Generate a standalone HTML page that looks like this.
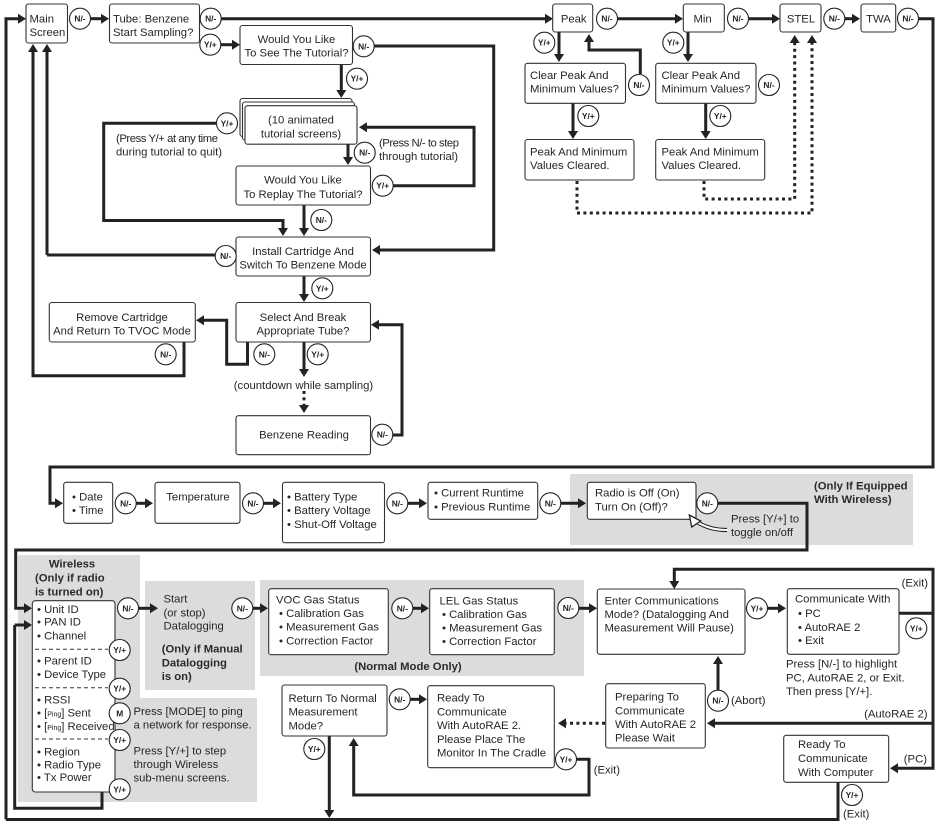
<!DOCTYPE html>
<html><head><meta charset="utf-8"><style>
html,body{margin:0;padding:0;background:#fff;width:937px;height:825px;overflow:hidden}
svg{display:block;filter:blur(.3px)}
text{font-family:"Liberation Sans",sans-serif;font-size:11.3px;fill:#262626}
.m{text-anchor:middle}.e{text-anchor:end}
.b{font-weight:bold;fill:#2a2a2a}
.c text,text.c{font-size:8.4px;font-weight:bold;text-anchor:middle;fill:#222}
.g rect{fill:#dcdcdc}
.l path{fill:none;stroke:#222;stroke-width:3;marker-end:url(#a)}
.n path{fill:none;stroke:#222;stroke-width:3}
.d path{fill:none;stroke:#222;stroke-width:3;stroke-dasharray:3 3.4;marker-end:url(#a)}
.x rect{fill:#fff;stroke:#333;stroke-width:1.1}
.o circle{fill:#fff;stroke:#222;stroke-width:1.1}
</style></head><body>
<svg width="937" height="825" viewBox="0 0 937 825" xmlns="http://www.w3.org/2000/svg">
<defs><marker id="a" markerUnits="userSpaceOnUse" markerWidth="14" markerHeight="14" refX="4" refY="6" orient="auto"><path d="M0,1 L8,6 L0,11 z" fill="#222"/></marker></defs>
<g class="g">
<rect x="570" y="474" width="343" height="71"/>
<rect x="18" y="555" width="122" height="143"/>
<rect x="18" y="698" width="239" height="104"/>
<rect x="145" y="581" width="110" height="109"/>
<rect x="260" y="580" width="324" height="96"/>
</g>
<g class="n">
<path d="M6,819.5H838V782"/>
<path d="M33,47V375.7H184V342"/>
<path d="M102,792V808.3H14.7V625"/>
<path d="M47,255H215"/>
</g>
<g class="l">
<path d="M6,819.5V18.7H22"/>
<path d="M33,376V48"/>
<path d="M47,255V48"/>
<path d="M90,18.7H105"/>
<path d="M221,18.7H549"/>
<path d="M220,44.7H236"/>
<path d="M374,46H493.7V250H376"/>
<path d="M341.3,65V94"/>
<path d="M216,123.3H103.7V220.5H283V232"/>
<path d="M348,144V161"/>
<path d="M393,185.7H474V127.3H363"/>
<path d="M304,205V232"/>
<path d="M304,276V298"/>
<path d="M247.5,342V364.3H226.7V320.3H200"/>
<path d="M304,342V373"/>
<path d="M392,435H402V324.7H375"/>
<path d="M617,18.7H679"/>
<path d="M749,18.7H776"/>
<path d="M845,18.7H856"/>
<path d="M918,18.7H933V467H50V503.3H59"/>
<path d="M136,503.3H149"/>
<path d="M263,503.3H277"/>
<path d="M407,503.3H423"/>
<path d="M561,503.3H582"/>
<path d="M717,503.3H807V550H15.7V608.3H28"/>
<path d="M14.7,625H28"/>
<path d="M138,608.3H154"/>
<path d="M253,608.3H264"/>
<path d="M413,608.3H425"/>
<path d="M579,608.3H593"/>
<path d="M768,608.3H782"/>
<path d="M899,613.3H933V569.3H674.3V585"/>
<path d="M933,569.3V768.3H894"/>
<path d="M933,723.3H711"/>
<path d="M718,690V660"/>
<path d="M410,699.3H423"/>
<path d="M576,759.3H589V795H353.7V742"/>
<path d="M329.3,736V814"/>
<path d="M559,32V58"/>
<path d="M640.3,74V50H589V38"/>
<path d="M688,32V58"/>
<path d="M573,103V135"/>
<path d="M705.7,103V135"/>
</g>
<g class="d">
<path d="M304,391V409"/>
<path d="M704,181V199H794.7V39"/>
<path d="M577,181V213H812V39"/>
<path d="M605,723.3H562"/>
</g>
<g class="x">
<rect x="26" y="4" width="41.500" height="39" rx="2.500"/>
<rect x="109.500" y="4" width="90" height="39" rx="2.500"/>
<rect x="240" y="25.500" width="112.500" height="39" rx="2.500"/>
<rect x="240" y="98.500" width="112" height="38" rx="2.500"/>
<rect x="242.500" y="102" width="112" height="38" rx="2.500"/>
<rect x="245" y="105.700" width="112" height="38.500" rx="2.500"/>
<rect x="236" y="166" width="134.500" height="39" rx="2.500"/>
<rect x="236" y="237" width="134.500" height="39" rx="2.500"/>
<rect x="236" y="302.500" width="134.500" height="39.500" rx="2.500"/>
<rect x="49.300" y="302.500" width="146" height="39.500" rx="2.500"/>
<rect x="236" y="415.700" width="134.500" height="39" rx="2.500"/>
<rect x="63.700" y="482.300" width="49" height="41" rx="2.500"/>
<rect x="155" y="482.300" width="85" height="41" rx="2.500"/>
<rect x="282.500" y="482.300" width="102" height="60.400" rx="2.500"/>
<rect x="428" y="482.300" width="109.700" height="37" rx="2.500"/>
<rect x="587.300" y="482.300" width="108.700" height="37" rx="2.500"/>
<rect x="552.700" y="4" width="40" height="28" rx="2.500"/>
<rect x="683.300" y="4" width="41" height="28" rx="2.500"/>
<rect x="780" y="4" width="41" height="28" rx="2.500"/>
<rect x="861" y="4" width="34.700" height="28" rx="2.500"/>
<rect x="525" y="63.300" width="100.500" height="40" rx="2.500"/>
<rect x="655.700" y="63.300" width="100.300" height="40" rx="2.500"/>
<rect x="525" y="139.500" width="109" height="40.500" rx="2.500"/>
<rect x="655.700" y="139.500" width="109" height="40.500" rx="2.500"/>
<rect x="32.300" y="600.700" width="82.700" height="191.300" rx="3"/>
<rect x="268.700" y="588.700" width="119.600" height="66" rx="2.500"/>
<rect x="429.700" y="588.700" width="124.600" height="66" rx="2.500"/>
<rect x="597.300" y="589" width="147.700" height="65.300" rx="2.500"/>
<rect x="787.300" y="588.700" width="111.700" height="65.600" rx="2.500"/>
<rect x="605.700" y="683.700" width="99.600" height="64.300" rx="2.500"/>
<rect x="783.700" y="735.300" width="105" height="47" rx="2.500"/>
<rect x="282" y="685" width="105" height="51" rx="2.500"/>
<rect x="427.700" y="685.700" width="126.600" height="82" rx="2.500"/>
</g>
<path d="M35,649.3H108M35,687.7H108M35,739H108" stroke="#333" stroke-width="1" stroke-dasharray="4 3" fill="none"/>
<g>
<path d="M727,530 C714,530 705,527 697,522" fill="none" stroke="#222" stroke-width="4.200"/>
<path d="M727.500,530 C714,530 705,527 695,521" fill="none" stroke="#fff" stroke-width="2"/>
<polygon points="689.300,515 700.700,521 691.700,527" fill="#fff" stroke="#222" stroke-width="1.300"/>
</g>
<g class="o">
<circle cx="80" cy="18.700" r="10.500"/><circle cx="210.700" cy="18.700" r="10.500"/>
<circle cx="210.300" cy="44.700" r="10.500"/><circle cx="363.700" cy="46.300" r="10.500"/>
<circle cx="357" cy="78.700" r="10.500"/><circle cx="227" cy="123.300" r="10.500"/>
<circle cx="364.700" cy="152.700" r="10.500"/><circle cx="382.700" cy="185.700" r="10.500"/>
<circle cx="321.300" cy="220" r="10.500"/><circle cx="225.700" cy="256" r="10.500"/>
<circle cx="322.300" cy="288.300" r="10.500"/><circle cx="165.700" cy="354.300" r="10.500"/>
<circle cx="264.300" cy="354.300" r="10.500"/><circle cx="317.700" cy="354.300" r="10.500"/>
<circle cx="382.300" cy="434.700" r="10.500"/><circle cx="125.700" cy="503.300" r="10.500"/>
<circle cx="253" cy="503.300" r="10.500"/><circle cx="397.300" cy="503.300" r="10.500"/>
<circle cx="550.300" cy="503.300" r="10.500"/><circle cx="707.300" cy="503.300" r="10.500"/>
<circle cx="607" cy="18.700" r="10.500"/><circle cx="738" cy="18.700" r="10.500"/>
<circle cx="834.300" cy="18.700" r="10.500"/><circle cx="908" cy="18.700" r="10.500"/>
<circle cx="544.300" cy="42.700" r="10.500"/><circle cx="673.300" cy="42.700" r="10.500"/>
<circle cx="639" cy="85" r="10.500"/><circle cx="769" cy="85" r="10.500"/>
<circle cx="588.300" cy="116" r="10.500"/><circle cx="720.300" cy="116" r="10.500"/>
<circle cx="128" cy="608.300" r="10.500"/><circle cx="242.300" cy="608.300" r="10.500"/>
<circle cx="119.700" cy="650" r="10.500"/><circle cx="119.700" cy="688.700" r="10.500"/>
<circle cx="119.700" cy="713.300" r="10.500"/><circle cx="119.700" cy="740" r="10.500"/>
<circle cx="119.700" cy="789.300" r="10.500"/><circle cx="402.300" cy="608.300" r="10.500"/>
<circle cx="568.300" cy="608" r="10.500"/><circle cx="757" cy="608.300" r="10.500"/>
<circle cx="916.300" cy="628.300" r="10.500"/><circle cx="718" cy="700.700" r="10.500"/>
<circle cx="399.700" cy="699.300" r="10.500"/><circle cx="314.300" cy="749" r="10.500"/>
<circle cx="566" cy="759.300" r="10.500"/><circle cx="852" cy="795" r="10.500"/>
</g>
<g class="c">
<text x="80" y="21.700">N/-</text><text x="210.700" y="21.700">N/-</text>
<text x="210.300" y="47.700">Y/+</text><text x="363.700" y="49.300">N/-</text>
<text x="357" y="81.700">Y/+</text><text x="227" y="126.300">Y/+</text>
<text x="364.700" y="155.700">N/-</text><text x="382.700" y="188.700">Y/+</text>
<text x="321.300" y="223">N/-</text><text x="225.700" y="259">N/-</text>
<text x="322.300" y="291.300">Y/+</text><text x="165.700" y="357.300">N/-</text>
<text x="264.300" y="357.300">N/-</text><text x="317.700" y="357.300">Y/+</text>
<text x="382.300" y="437.700">N/-</text><text x="125.700" y="506.300">N/-</text>
<text x="253" y="506.300">N/-</text><text x="397.300" y="506.300">N/-</text>
<text x="550.300" y="506.300">N/-</text><text x="707.300" y="506.300">N/-</text>
<text x="607" y="21.700">N/-</text><text x="738" y="21.700">N/-</text>
<text x="834.300" y="21.700">N/-</text><text x="908" y="21.700">N/-</text>
<text x="544.300" y="45.700">Y/+</text><text x="673.300" y="45.700">Y/+</text>
<text x="639" y="88">N/-</text><text x="769" y="88">N/-</text>
<text x="588.300" y="119">Y/+</text><text x="720.300" y="119">Y/+</text>
<text x="128" y="611.300">N/-</text><text x="242.300" y="611.300">N/-</text>
<text x="119.700" y="653">Y/+</text><text x="119.700" y="691.700">Y/+</text>
<text x="119.700" y="716.300">M</text><text x="119.700" y="743">Y/+</text>
<text x="119.700" y="792.300">Y/+</text><text x="402.300" y="611.300">N/-</text>
<text x="568.300" y="611">N/-</text><text x="757" y="611.300">Y/+</text>
<text x="916.300" y="631.300">Y/+</text><text x="718" y="703.700">N/-</text>
<text x="399.700" y="702.300">N/-</text><text x="314.300" y="752">Y/+</text>
<text x="566" y="762.300">Y/+</text><text x="852" y="798">Y/+</text>
</g>
<text x="29.500" y="22.500">Main</text><text x="29.500" y="36.200">Screen</text>
<text x="113" y="22.500">Tube: Benzene</text><text x="113" y="36.200">Start Sampling?</text>
<text class="m" x="296.500" y="43">Would You Like</text><text class="m" x="296.500" y="56.700">To See The Tutorial?</text>
<text class="m" x="301" y="123.700">(10 animated</text><text class="m" x="301" y="137.300">tutorial screens)</text>
<text x="116" y="142" textLength="102">(Press Y/+ at any time</text><text x="116" y="155.700" textLength="106">during tutorial to quit)</text>
<text x="379" y="146.300" textLength="80">(Press N/- to step</text><text x="379" y="160" textLength="79">through tutorial)</text>
<text class="m" x="303" y="183.700">Would You Like</text><text class="m" x="303" y="198">To Replay The Tutorial?</text>
<text class="m" x="303" y="255">Install Cartridge And</text><text class="m" x="303" y="268.700">Switch To Benzene Mode</text>
<text class="m" x="303" y="321">Select And Break</text><text class="m" x="303" y="334.700">Appropriate Tube?</text>
<text class="m" x="122" y="321">Remove Cartridge</text><text class="m" x="122" y="334.700">And Return To TVOC Mode</text>
<text class="m" x="303.500" y="389">(countdown while sampling)</text>
<text class="m" x="304" y="438.700">Benzene Reading</text>
<text class="m" x="573.700" y="22.500">Peak</text><text class="m" x="702.600" y="22.500">Min</text>
<text class="m" x="801" y="22.500">STEL</text><text class="m" x="878.500" y="22.500">TWA</text>
<text x="530" y="79">Clear Peak And</text><text x="530" y="92.700">Minimum Values?</text>
<text x="661.500" y="79">Clear Peak And</text><text x="661.500" y="92.700">Minimum Values?</text>
<text x="530" y="155.300">Peak And Minimum</text><text x="530" y="169">Values Cleared.</text>
<text x="661.500" y="155.300">Peak And Minimum</text><text x="661.500" y="169">Values Cleared.</text>
<text x="72" y="500.300">• Date</text><text x="72" y="514">• Time</text>
<text class="m" x="198" y="500.300">Temperature</text>
<text x="287" y="500.300">• Battery Type</text><text x="287" y="514">• Battery Voltage</text><text x="287" y="528">• Shut-Off Voltage</text>
<text x="434" y="496.700">• Current Runtime</text><text x="434" y="510.700">• Previous Runtime</text>
<text x="595" y="496.700">Radio is Off (On)</text><text x="595" y="510.700">Turn On (Off)?</text>
<text class="b" x="814" y="489.300">(Only If Equipped</text><text class="b" x="814" y="503">With Wireless)</text>
<text x="731" y="522.300">Press [Y/+] to</text><text x="731" y="536">toggle on/off</text>
<text class="b m" x="72" y="567.700">Wireless</text><text class="b" x="35" y="581.700">(Only if radio</text><text class="b" x="35" y="595.300">is turned on)</text>
<text x="37" y="613">• Unit ID</text><text x="37" y="625.700">• PAN ID</text><text x="37" y="639.300">• Channel</text>
<text x="37" y="664.700">• Parent ID</text><text x="37" y="678">• Device Type</text>
<text x="37" y="703.300">• RSSI</text>
<text x="37" y="716.700">• [<tspan font-size="7">Ping</tspan>] Sent</text>
<text x="37" y="730">• [<tspan font-size="7">Ping</tspan>] Received</text>
<text x="37" y="755.300">• Region</text><text x="37" y="768.300">• Radio Type</text><text x="37" y="781">• Tx Power</text>
<text x="133.500" y="715">Press [MODE] to ping</text><text x="133.500" y="728.700">a network for response.</text>
<text x="133.500" y="754.300">Press [Y/+] to step</text><text x="133.500" y="768">through Wireless</text><text x="133.500" y="781.700">sub-menu screens.</text>
<text x="163.500" y="602.300">Start</text><text x="163.500" y="616.300">(or stop)</text><text x="163.500" y="629.700">Datalogging</text>
<text class="b" x="161.700" y="652.700">(Only if Manual</text><text class="b" x="161.700" y="666.300">Datalogging</text><text class="b" x="161.700" y="680">is on)</text>
<text x="276" y="603.300">VOC Gas Status</text><text x="279" y="617">• Calibration Gas</text><text x="279" y="630.700">• Measurement Gas</text><text x="279" y="644.300">• Correction Factor</text>
<text x="439.500" y="604.300">LEL Gas Status</text><text x="442" y="618">• Calibration Gas</text><text x="442" y="631.700">• Measurement Gas</text><text x="442" y="645">• Correction Factor</text>
<text class="b m" x="408" y="670">(Normal Mode Only)</text>
<text x="604.500" y="604.300">Enter Communications</text><text x="604.500" y="618">Mode? (Datalogging And</text><text x="604.500" y="631.700">Measurement Will Pause)</text>
<text x="795" y="602.700">Communicate With</text><text x="798" y="617">• PC</text><text x="798" y="631">• AutoRAE 2</text><text x="798" y="644">• Exit</text>
<text x="786" y="667.700">Press [N/-] to highlight</text><text x="786" y="681.500">PC, AutoRAE 2, or Exit.</text><text x="786" y="695">Then press [Y/+].</text>
<text class="e" x="928" y="586.700">(Exit)</text><text class="e" x="927.500" y="717.700">(AutoRAE 2)</text><text class="e" x="927" y="762.700">(PC)</text>
<text x="843" y="817.700">(Exit)</text><text x="593.700" y="773.300">(Exit)</text><text x="731" y="704">(Abort)</text>
<text x="615" y="700.700">Preparing To</text><text x="615" y="714.300">Communicate</text><text x="615" y="728">With AutoRAE 2</text><text x="615" y="741.700">Please Wait</text>
<text x="798" y="748">Ready To</text><text x="798" y="762">Communicate</text><text x="798" y="776">With Computer</text>
<text x="288.500" y="702">Return To Normal</text><text x="288.500" y="715.700">Measurement</text><text x="288.500" y="729.500">Mode?</text>
<text x="437" y="701.700">Ready To</text><text x="437" y="715.400">Communicate</text><text x="437" y="729">With AutoRAE 2.</text><text x="437" y="742.800">Please Place The</text><text x="437" y="756.500">Monitor In The Cradle</text>
</svg>
</body></html>
